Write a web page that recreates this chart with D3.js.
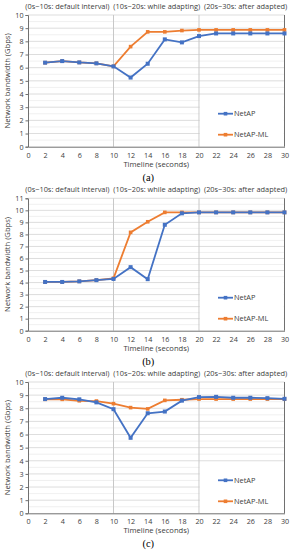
<!DOCTYPE html>
<html><head><meta charset="utf-8">
<script src="https://cdn.jsdelivr.net/npm/d3@7"></script>
<style>body{margin:0;background:#fff}svg{display:block}</style>
</head><body>
<script>
const xValues = [2,4,6,8,10,12,14,16,18,20,22,24,26,28,30];
const xTicks = [0,2,4,6,8,10,12,14,16,18,20,22,24,26,28,30];
const seriesNames = ["NetAP","NetAP-ML"];
const phaseTitle = "(0s~10s: default interval)  (10s~20s: while adapting)  (20s~30s: after adapted)";
const panelLabels = ["(a)","(b)","(c)"];
const panelYMax = [10, 11, 10];
const netapA   = [6.38,6.5,6.4,6.33,6.1,5.25,6.3,8.15,7.92,8.4,8.6,8.6,8.6,8.6,8.6];
const netapMLA = [6.38,6.5,6.4,6.33,6.1,7.6,8.72,8.72,8.82,8.87,8.87,8.87,8.87,8.87,8.87];
const netapB   = [4.05,4.05,4.1,4.2,4.3,5.28,4.28,8.8,9.75,9.83,9.83,9.83,9.83,9.83,9.83];
const netapMLB = [4.05,4.05,4.1,4.2,4.35,8.17,9.05,9.83,9.83,9.83,9.83,9.83,9.83,9.83,9.83];
const netapC   = [8.7,8.8,8.68,8.45,7.93,5.75,7.62,7.75,8.58,8.85,8.87,8.8,8.8,8.77,8.72];
const netapMLC = [8.68,8.68,8.57,8.55,8.35,8.05,7.95,8.6,8.65,8.7,8.7,8.7,8.7,8.7,8.7];

const panels = [
  {label: panelLabels[0], ymax: panelYMax[0], top: 15, bottom: 146.7, s: [netapA, netapMLA]},
  {label: panelLabels[1], ymax: panelYMax[1], top: 198.3, bottom: 330.7, s: [netapB, netapMLB]},
  {label: panelLabels[2], ymax: panelYMax[2], top: 382, bottom: 513.3, s: [netapC, netapMLC]}
];
const colors = ["#4472C4", "#ED7D31"];
const W = 293, H = 550, left = 28, right = 284.5;
const font = "'Open Sans', 'Liberation Sans', sans-serif";

const svg = d3.select("body").append("svg").attr("width", W).attr("height", H);
const x = d3.scaleLinear().domain([0,30]).range([left, right]);

panels.forEach(p => {
  const y = d3.scaleLinear().domain([0, p.ymax]).range([p.bottom, p.top]);
  const g = svg.append("g");
  // minor grid
  const halves = d3.range(0.5, p.ymax, 1);
  g.selectAll(".minor").data(halves).join("line")
    .attr("x1", left).attr("x2", right).attr("y1", d => y(d)).attr("y2", d => y(d))
    .attr("stroke", "#ececec").attr("stroke-width", 0.8);
  // major grid
  g.selectAll(".major").data(d3.range(1, p.ymax + 1)).join("line")
    .attr("x1", left).attr("x2", right).attr("y1", d => y(d)).attr("y2", d => y(d))
    .attr("stroke", "#d4d4d4").attr("stroke-width", 0.8);
  // vertical phase lines
  g.selectAll(".vl").data([10,20]).join("line")
    .attr("x1", d => x(d)).attr("x2", d => x(d)).attr("y1", p.top).attr("y2", p.bottom)
    .attr("stroke", "#c8c8c8").attr("stroke-width", 1);
  // legend background
  g.append("rect").attr("x", x(20) + 0.8).attr("y", p.bottom - 50).attr("width", right - x(20) - 1.5).attr("height", 49)
    .attr("fill", "#fff");
  // frame
  g.append("line").attr("x1", right).attr("x2", right).attr("y1", p.top).attr("y2", p.bottom).attr("stroke", "#707070").attr("stroke-width", 1);
  // y axis
  const ya = d3.axisLeft(y).tickValues(d3.range(0, p.ymax + 1)).tickSize(2.5).tickPadding(2);
  const yg = g.append("g").attr("transform", `translate(${left},0)`).call(ya);
  yg.select(".domain").attr("stroke", "#707070");
  yg.selectAll(".tick line").attr("stroke", "#707070");
  yg.selectAll("text").attr("font-family", font).attr("font-size", 7.2).attr("fill", "#404040");
  // x axis
  const xa = d3.axisBottom(x).tickValues(xTicks).tickSize(0).tickPadding(6);
  const xg = g.append("g").attr("transform", `translate(0,${p.bottom})`).call(xa);
  xg.select(".domain").attr("stroke", "#707070");
  xg.selectAll("text").attr("font-family", font).attr("font-size", 7.2).attr("fill", "#404040");
  // title
  g.append("text").attr("x", (left + right) / 2).attr("y", p.top - 8.5).attr("dy", "0.35em")
    .attr("text-anchor", "middle").attr("font-family", font).attr("font-size", 7.4).attr("fill", "#404040")
    .attr("xml:space", "preserve").text(phaseTitle);
  // x title
  g.append("text").attr("x", (left + right) / 2).attr("y", p.bottom + 17.3).attr("dy", "0.35em")
    .attr("text-anchor", "middle").attr("font-family", font).attr("font-size", 7.6).attr("fill", "#404040")
    .text("Timeline (seconds)");
  // y title
  g.append("text").attr("transform", `translate(7,${(p.top + p.bottom) / 2}) rotate(-90)`).attr("dy", "0.35em")
    .attr("text-anchor", "middle").attr("font-family", font).attr("font-size", 7.6).attr("fill", "#404040")
    .text("Network bandwidth (Gbps)");
  // panel label
  g.append("text").attr("x", (left + right) / 2 - 8).attr("y", p.bottom + 30.5).attr("dy", "0.35em")
    .attr("text-anchor", "middle").attr("font-family", "'Liberation Serif', serif").attr("font-size", 10.5).attr("fill", "#000")
    .text(p.label);
  // series
  const line = d3.line().x((d, i) => x(xValues[i])).y(d => y(d));
  [1, 0].forEach(si => {
    const data = p.s[si];
    g.append("path").datum(data).attr("d", line).attr("fill", "none")
      .attr("stroke", colors[si]).attr("stroke-width", 1.8);
    const sz = si === 0 ? 4 : 3.6;
    g.selectAll(".m" + si).data(data).join("rect")
      .attr("x", (d, i) => x(xValues[i]) - sz / 2).attr("y", d => y(d) - sz / 2)
      .attr("width", sz).attr("height", sz).attr("fill", colors[si]);
  });
  // legend
  seriesNames.forEach((name, si) => {
    const ly = p.bottom - 33 + si * 21;
    g.append("line").attr("x1", 218).attr("x2", 233).attr("y1", ly).attr("y2", ly)
      .attr("stroke", colors[si]).attr("stroke-width", 1.8);
    g.append("rect").attr("x", 225.5 - 1.8).attr("y", ly - 1.8).attr("width", 3.6).attr("height", 3.6).attr("fill", colors[si]);
    g.append("text").attr("x", 234).attr("y", ly).attr("dy", "0.35em")
      .attr("font-family", font).attr("font-size", 7.4).attr("fill", "#404040").text(name);
  });
});
</script>
</body></html>
